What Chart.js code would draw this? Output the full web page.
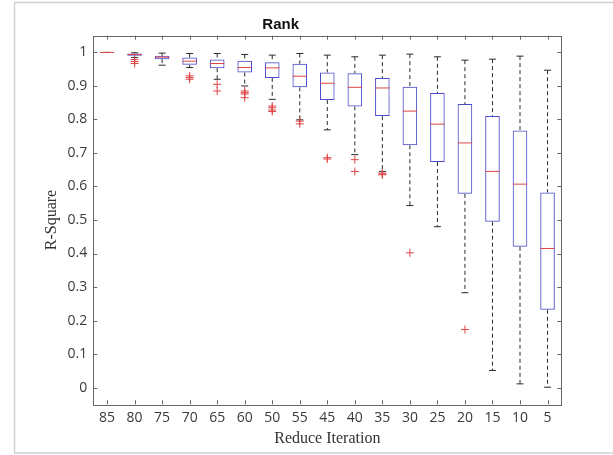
<!DOCTYPE html>
<html>
<head>
<meta charset="utf-8">
<script src="https://cdn.jsdelivr.net/npm/chart.js@4.4.0/dist/chart.umd.min.js"></script>
<style>
  body { margin: 0; background: #fff; }
  #wrap { width: 613px; height: 455px; position: relative; }
</style>
</head>
<body>
<div id="wrap"><canvas id="myChart"></canvas></div>
<script>
// categories (order as printed on the original figure)
var labels = ['85', '80', '75', '70', '65', '60', '50', '55', '45', '40', '35', '30', '25', '20', '15', '10', '5'];

// box statistics
var whiskHi = [1.000, 0.999, 0.998, 0.997, 0.997, 0.994, 0.992, 0.997, 0.992, 0.987, 0.992, 0.995, 0.987, 0.977, 0.980, 0.989, 0.947];
var q3      = [1.000, 0.997, 0.990, 0.985, 0.979, 0.975, 0.971, 0.966, 0.940, 0.938, 0.924, 0.898, 0.879, 0.846, 0.810, 0.767, 0.582];
var medians = [1.000, 0.994, 0.986, 0.974, 0.967, 0.955, 0.954, 0.929, 0.908, 0.896, 0.894, 0.825, 0.786, 0.730, 0.645, 0.607, 0.415];
var q1      = [1.000, 0.990, 0.980, 0.963, 0.953, 0.940, 0.924, 0.896, 0.858, 0.839, 0.810, 0.723, 0.673, 0.578, 0.495, 0.420, 0.232];
var whiskLo = [1.000, 0.985, 0.962, 0.955, 0.920, 0.900, 0.860, 0.799, 0.769, 0.695, 0.645, 0.543, 0.480, 0.283, 0.051, 0.011, 0.001];

// outliers (category, value)
var outlierCats = ['80', '80', '80', '70', '70', '70', '65', '65', '60', '60', '60', '60', '50', '50', '50', '50', '55', '55', '45', '45', '40', '40', '35', '35', '35', '30', '20'];
var outlierVals = [0.979, 0.973, 0.967, 0.930, 0.925, 0.920, 0.905, 0.885, 0.885, 0.880, 0.876, 0.865, 0.840, 0.835, 0.828, 0.824, 0.795, 0.787, 0.686, 0.682, 0.680, 0.645, 0.640, 0.637, 0.635, 0.402, 0.173];

// y tick values
var yTicks = [0, 0.1, 0.2, 0.3, 0.4, 0.5, 0.6, 0.7, 0.8, 0.9, 1];

var boxColor = '#4b4bcc';
var redColor = '#dd4646';
var whiskColor = '#2a2a2a';

// build the datasets from the arrays above
var boxData = [];
var medData = [];
var capData = [];
var whiskData = [];
for (var i = 0; i < labels.length; i++) {
  boxData.push([q1[i], q3[i]]);
  medData.push({x: labels[i], y: medians[i]});
  capData.push({x: labels[i], y: whiskHi[i]});
  capData.push({x: labels[i], y: whiskLo[i]});
  // upper whisker, gap, lower whisker, gap
  whiskData.push({x: labels[i], y: whiskHi[i]});
  whiskData.push({x: labels[i], y: q3[i]});
  whiskData.push({x: labels[i], y: null});
  whiskData.push({x: labels[i], y: q1[i]});
  whiskData.push({x: labels[i], y: whiskLo[i]});
  whiskData.push({x: labels[i], y: null});
}
var outData = [];
for (var j = 0; j < outlierCats.length; j++) {
  outData.push({x: outlierCats[j], y: outlierVals[j]});
}

// light outer frame + MATLAB style box with inward ticks
var framePlugin = {
  id: 'frame',
  beforeDraw: function(chart) {
    var c = chart.ctx;
    c.save();
    c.fillStyle = '#fff';
    c.fillRect(0, 0, chart.width, chart.height);
    c.strokeStyle = '#d2d2d2';
    c.lineWidth = 1.5;
    c.strokeRect(14.5, 2.5, chart.width, 450.5);
    c.restore();
  },
  afterDraw: function(chart) {
    var c = chart.ctx;
    var a = chart.chartArea;
    var xs = chart.scales.x, ys = chart.scales.y;
    var tl = 4;
    c.save();
    c.strokeStyle = '#666';
    c.lineWidth = 1;
    c.beginPath();
    for (var i = 0; i < labels.length; i++) {
      var px = Math.round(xs.getPixelForValue(i)) + 0.5;
      c.moveTo(px, a.bottom); c.lineTo(px, a.bottom - tl);
      c.moveTo(px, a.top); c.lineTo(px, a.top + tl);
    }
    for (var k = 0; k < yTicks.length; k++) {
      var py = Math.round(ys.getPixelForValue(yTicks[k])) + 0.5;
      c.moveTo(a.left, py); c.lineTo(a.left + tl, py);
      c.moveTo(a.right, py); c.lineTo(a.right - tl, py);
    }
    c.stroke();
    c.strokeRect(Math.round(a.left) + 0.5, Math.round(a.top) + 0.5,
                 Math.round(a.right - a.left), Math.round(a.bottom - a.top));
    c.restore();
  }
};

var ctx = document.getElementById('myChart').getContext('2d');
var myChart = new Chart(ctx, {
  type: 'bar',
  data: {
    labels: labels,
    datasets: [
      {
        type: 'line',
        label: 'whiskers',
        data: whiskData,
        borderColor: whiskColor,
        borderWidth: 1,
        borderDash: [4, 3],
        pointRadius: 0,
        spanGaps: false,
        order: 5
      },
      {
        type: 'line',
        label: 'caps',
        data: capData,
        showLine: false,
        pointStyle: 'line',
        pointRadius: 3.5,
        pointBorderColor: whiskColor,
        pointBorderWidth: 1,
        order: 4
      },
      {
        label: 'box',
        data: boxData,
        backgroundColor: 'rgba(0,0,0,0)',
        borderColor: boxColor,
        borderWidth: 1,
        borderSkipped: false,
        barPercentage: 0.53,
        categoryPercentage: 1,
        grouped: false,
        order: 3
      },
      {
        type: 'line',
        label: 'median',
        data: medData,
        showLine: false,
        pointStyle: 'line',
        pointRadius: 7.2,
        pointBorderColor: redColor,
        pointBorderWidth: 1,
        order: 2
      },
      {
        type: 'line',
        label: 'outliers',
        data: outData,
        showLine: false,
        pointStyle: 'cross',
        pointRadius: 4,
        pointBorderColor: redColor,
        pointBorderWidth: 1,
        order: 1
      }
    ]
  },
  options: {
    responsive: true,
    maintainAspectRatio: false,
    animation: false,
    layout: { padding: { left: 0, right: 51.7, top: 0, bottom: 0 } },
    plugins: {
      legend: { display: false },
      tooltip: { enabled: false },
      title: {
        display: true,
        text: 'Rank',
        color: '#111',
        font: { family: 'Liberation Sans', size: 15, weight: 'bold' },
        padding: { top: 15.5, bottom: 2.2 }
      }
    },
    scales: {
      x: {
        type: 'category',
        offset: true,
        grid: { display: false, drawTicks: false },
        border: { display: false },
        ticks: {
          color: '#3a3a3a',
          font: { family: 'Open Sans', size: 14 },
          padding: 5,
          maxRotation: 0,
          autoSkip: false
        },
        title: {
          display: true,
          text: 'Reduce Iteration',
          color: '#333',
          font: { family: 'Liberation Serif', size: 16 },
          padding: { top: 0, bottom: 7 }
        },
        afterFit: function(scale) { scale.height = 50.7; }
      },
      y: {
        min: -0.05,
        max: 1.05,
        grid: { display: false, drawTicks: false },
        border: { display: false },
        afterBuildTicks: function(axis) {
          axis.ticks = yTicks.map(function(v) { return {value: v}; });
        },
        ticks: {
          color: '#3a3a3a',
          font: { family: 'Open Sans', size: 14 },
          padding: 6,
          callback: function(v) { return String(Number(v.toFixed(1))); }
        },
        title: {
          display: true,
          text: 'R-Square',
          color: '#333',
          font: { family: 'Liberation Serif', size: 16 },
          padding: { top: 42, bottom: 0 }
        },
        afterFit: function(scale) { scale.width = 93.3; }
      }
    }
  },
  plugins: [framePlugin]
});
</script>
</body>
</html>
